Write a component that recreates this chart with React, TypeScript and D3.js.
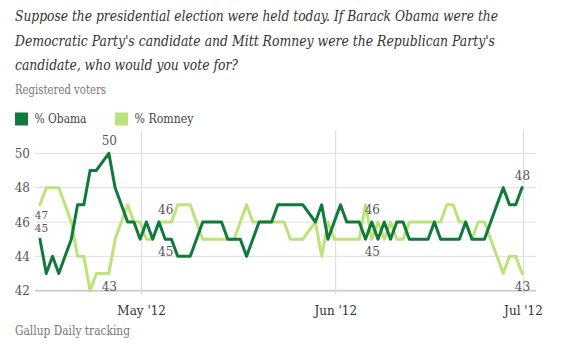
import React from "react";
import * as d3 from "d3";

const dates = [
  "2012-04-15","2012-04-16","2012-04-17","2012-04-18","2012-04-19","2012-04-20","2012-04-21","2012-04-22","2012-04-23","2012-04-24",
  "2012-04-26","2012-04-27","2012-04-28","2012-04-29","2012-04-30","2012-05-01","2012-05-02","2012-05-03","2012-05-04","2012-05-05",
  "2012-05-06","2012-05-07","2012-05-08","2012-05-09","2012-05-10","2012-05-11","2012-05-12","2012-05-13","2012-05-14","2012-05-15",
  "2012-05-16","2012-05-17","2012-05-18","2012-05-19","2012-05-20","2012-05-21","2012-05-22","2012-05-23","2012-05-24","2012-05-25","2012-05-26","2012-05-27",
  "2012-05-29","2012-05-30","2012-05-31","2012-06-01","2012-06-02","2012-06-03","2012-06-04","2012-06-05","2012-06-06","2012-06-07",
  "2012-06-08","2012-06-09","2012-06-10","2012-06-11","2012-06-12","2012-06-13","2012-06-14","2012-06-15","2012-06-16","2012-06-17",
  "2012-06-18","2012-06-19","2012-06-20","2012-06-21","2012-06-22","2012-06-23","2012-06-24","2012-06-25","2012-06-26","2012-06-27",
  "2012-06-28","2012-06-29","2012-06-30","2012-07-01",
];

const obama = [
  45,43,44,43,44,45,47,47,49,49,
  50,48,47,46,46,45,46,45,46,45,
  45,44,44,44,45,46,46,46,46,45,
  45,45,44,45,46,46,46,47,47,47,47,47,
  46,47,45,46,47,46,46,46,45,46,
  45,46,45,46,46,45,45,45,45,46,
  45,45,45,45,46,45,45,45,46,47,
  48,47,47,48,
];

const romney = [
  47,48,48,48,47,46,44,44,42,43,
  43,45,46,47,46,46,45,45,46,46,
  46,47,47,47,46,45,45,45,45,45,
  45,46,47,46,46,46,46,46,46,45,45,45,
  46,44,46,45,45,45,45,45,47,45,
  46,45,46,45,45,46,46,46,46,46,
  46,47,47,46,46,45,46,46,45,44,
  43,44,44,43,
];

const seriesNames = ["% Obama", "% Romney"];
const yTicks = [42, 44, 46, 48, 50];
const monthTicks = ["2012-05-01", "2012-06-01", "2012-07-01"];
const monthLabels = ["May '12", "Jun '12", "Jul '12"];
const labelDates = ["2012-04-26", "2012-05-05", "2012-06-07", "2012-07-01"];
const titleLines = [
  "Suppose the presidential election were held today. If Barack Obama were the",
  "Democratic Party's candidate and Mitt Romney were the Republican Party's",
  "candidate, who would you vote for?",
];
const subtitle = "Registered voters";
const footer = "Gallup Daily tracking";

const parse = d3.utcParse("%Y-%m-%d");
const DARK = "#0f7a3b";
const LIGHT = "#bde27a";
const SERIF = "'DejaVu Serif', 'Liberation Serif', serif";

export default function App() {
  const W = 566, H = 354;
  const parsed = dates.map((d) => parse(d) as Date);
  const x = d3.scaleUtc().domain([parsed[0], parsed[parsed.length - 1]]).range([40, 522]);
  const y = d3.scaleLinear().domain([42, 50]).range([290.7, 153.3]);
  const line = d3
    .line<number>()
    .x((_, i) => x(parsed[i]))
    .y((v) => y(v));
  const series = [
    { name: seriesNames[0], values: obama, color: DARK },
    { name: seriesNames[1], values: romney, color: LIGHT },
  ];
  const x0 = 35, x1 = 536;
  const titleWidths = [483, 480, 223];

  const annots = labelDates.map((ds) => {
    const i = dates.indexOf(ds);
    const a = obama[i], b = romney[i];
    return { xd: parsed[i], hi: Math.max(a, b), lo: Math.min(a, b) };
  });

  return (
    <svg width={W} height={H} style={{ position: "absolute", left: 0, top: 0, background: "#fff" }}>
      {titleLines.map((t, i) => (
        <text key={i} x={15} y={21 + i * 24.7} fontFamily={SERIF} fontStyle="italic" fontSize={14} fill="#333"
          textLength={titleWidths[i]} lengthAdjust="spacingAndGlyphs">{t}</text>
      ))}
      <text x={15} y={94} fontFamily={SERIF} fontSize={12} fill="#777" textLength={91} lengthAdjust="spacingAndGlyphs">{subtitle}</text>
      {series.map((s, i) => (
        <g key={s.name} transform={`translate(${15 + i * 100},112.5)`}>
          <rect width={13} height={13} fill={s.color} />
          <text x={19.5} y={10.5} fontFamily={SERIF} fontSize={12} fill="#444"
            textLength={i === 0 ? 52 : 59} lengthAdjust="spacingAndGlyphs">{s.name}</text>
        </g>
      ))}
      {yTicks.map((t) => (
        <g key={t}>
          <line x1={x0} x2={x1} y1={y(t)} y2={y(t)} stroke={t === 42 ? "#cfcfcf" : "#dedede"} strokeWidth={t === 42 ? 2 : 1} />
          <text x={30} y={y(t) + 4.5} textAnchor="end" fontFamily={SERIF} fontSize={12} fill="#555">{t}</text>
        </g>
      ))}
      {monthTicks.map((m, i) => {
        const xm = x(parse(m) as Date) + 1.5;
        return (
          <g key={m}>
            <line x1={xm} x2={xm} y1={130} y2={295} stroke="#dadada" strokeWidth={1} />
            <text x={xm} y={315} textAnchor="middle" fontFamily={SERIF} fontSize={12} fill="#333">{monthLabels[i]}</text>
          </g>
        );
      })}
      {series.slice().reverse().map((s) => (
        <path key={s.name} d={line(s.values) || ""} fill="none" stroke={s.color} strokeWidth={3} strokeLinejoin="round" strokeLinecap="round" />
      ))}
      <text x={x(parsed[0]) + 1.5} y={y(46) - 3} textAnchor="middle" fontFamily={SERIF} fontSize={10.5} fill="#555">{Math.max(obama[0], romney[0])}</text>
      <text x={x(parsed[0]) + 1.5} y={y(46) + 9.5} textAnchor="middle" fontFamily={SERIF} fontSize={10.5} fill="#555">{Math.min(obama[0], romney[0])}</text>
      {annots.map((a, i) => (
        <g key={i}>
          <text x={x(a.xd) + 0.5} y={y(a.hi) - 8} textAnchor="middle" fontFamily={SERIF} fontSize={12} fill="#555">{a.hi}</text>
          <text x={x(a.xd) + 0.5} y={y(a.lo) + 17} textAnchor="middle" fontFamily={SERIF} fontSize={12} fill="#555">{a.lo}</text>
        </g>
      ))}
      <text x={15} y={335} fontFamily={SERIF} fontSize={12} fill="#777" textLength={115} lengthAdjust="spacingAndGlyphs">{footer}</text>
    </svg>
  );
}
